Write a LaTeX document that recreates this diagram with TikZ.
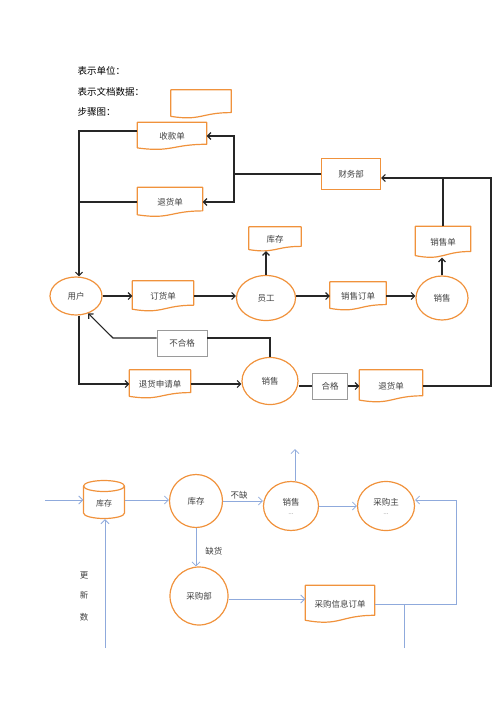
\documentclass[tikz,border=0pt]{standalone}
\usepackage{fontspec}
\setmainfont{Noto Sans CJK SC}
\usetikzlibrary{arrows.meta,shapes.geometric,calc}
\definecolor{orng}{HTML}{F0923C}
\definecolor{lblue}{HTML}{8FAADC}
\definecolor{gbox}{HTML}{9A9A9A}
\definecolor{txt}{HTML}{404040}
\newcommand\docoutline[1]{\draw[orline] let \p1=(#1.north west), \p2=(#1.south east) in (\x1,\y1) -- (\x2,\y1) -- (\x2,{\y2+0.198*(\y1-\y2)}) .. controls ({0.5*(\x1+\x2)},{\y2+0.198*(\y1-\y2)}) and ({0.5*(\x1+\x2)},{\y2-0.107*(\y1-\y2)}) .. (\x1,{\y2+0.066*(\y1-\y2)}) -- cycle;}
\begin{document}
\begin{tikzpicture}[x=1pt,y=-1pt,
  font=\fontsize{8.5}{10}\selectfont,
  orline/.style={draw=orng, line width=1.2pt, line join=round},
  docn/.style={rectangle, inner sep=0, text=txt},
  ell/.style={ellipse, draw=orng, line width=1.2pt, inner sep=0, text=txt},
  circ/.style={circle, draw=orng, line width=1.2pt, inner sep=0, text=txt},
  obox/.style={rectangle, draw=orng, line width=1.2pt, inner sep=0, text=txt},
  gboxs/.style={rectangle, draw=gbox, line width=0.8pt, inner sep=0, text=txt},
  blk/.style={draw=black!85, line width=1.1pt},
  barb/.style={-{Straight Barb[length=3.5pt,width=7pt]}},
  bl/.style={draw=lblue, line width=0.8pt},
  bbarb/.style={-{Straight Barb[length=4pt,width=8pt]}},
  lbl/.style={text=txt, inner sep=1pt}
]
\useasboundingbox (0,0) rectangle (500,707);

% legend
\node[anchor=west, font=\fontsize{9.5}{11}\selectfont] (l1) at (74,71) {表示单位：};
\node[anchor=west, font=\fontsize{9.5}{11}\selectfont] (l2) at (74,92) {表示文档数据：};
\node[anchor=west, font=\fontsize{9.5}{11}\selectfont] (l3) at (74,112) {步骤图：};
\node[docn, minimum width=60, minimum height=28] (leg) at (201,104) {};
\docoutline{leg}

% top section nodes
\node[docn, minimum width=69, minimum height=27] (skd) at (172,136) {收款单};
\docoutline{skd}
\node[docn, minimum width=65, minimum height=29] (thd) at (170,202) {退货单};
\docoutline{thd}
\node[obox, minimum width=59, minimum height=31] (cwb) at (351,174) {财务部};
\node[docn, minimum width=52, minimum height=24] (kc) at (275,239) {库存};
\docoutline{kc}
\node[docn, minimum width=55, minimum height=31] (xsd) at (443,242) {销售单};
\docoutline{xsd}
\node[ell, minimum width=52, minimum height=38] (yh) at (76,296) {用户};
\node[docn, minimum width=61, minimum height=30] (dhd) at (163,296) {订货单};
\docoutline{dhd}
\node[ell, minimum width=59, minimum height=45] (yg) at (266,298) {员工};
\node[docn, minimum width=56, minimum height=28] (xsdd) at (358,296) {销售订单};
\docoutline{xsdd}
\node[ell, minimum width=52, minimum height=44] (xs) at (442,298) {销售};
\node[gboxs, minimum width=50, minimum height=26] (bhg) at (182,343) {不合格};
\node[docn, minimum width=61, minimum height=28] (thsq) at (160,384) {退货申请单};
\docoutline{thsq}
\node[ell, minimum width=56, minimum height=47] (xs2) at (270,381) {销售};
\node[gboxs, minimum width=35, minimum height=26] (hg) at (330,386) {合格};
\node[docn, minimum width=63, minimum height=32] (thd2) at (391,386) {退货单};
\docoutline{thd2}

% top section connectors
\coordinate (jr) at (234,174);
\coordinate (rc) at (491,178);
\coordinate (lx) at ([xshift=3pt]yh.north);
\draw[blk] (cwb.west) -- (jr);
\draw[blk,barb] (jr) |- (skd.east);
\draw[blk,barb] (jr) |- (thd.east);
\draw[blk,barb] ([yshift=5pt]skd.west) -| (lx);
\draw[blk] (thd.west) -- (thd.west -| lx);
\draw[blk,barb] (thd2.east) -| (rc) -- ([yshift=-4pt]cwb.east);
\draw[blk] (xsd.north) -- (xsd.north |- rc);
\draw[blk,barb] (yh.east) -- (yh.east -| dhd.west);
\draw[blk,barb] (dhd.east) -- (dhd.east -| yg.west);
\draw[blk,barb] (yg.north) -- (yg.north |- kc.south);
\draw[blk,barb] (yg.east |- xsdd.west) -- (xsdd.west);
\draw[blk,barb] (xsdd.east) -- (xsdd.east -| xs.west);
\draw[blk,barb] (xs.north) -- (xs.north |- xsd.south);
\draw[blk,barb] ([xshift=3pt]yh.south) |- (thsq.west);
\draw[blk,barb] (thsq.east) -- (thsq.east -| xs2.west);
\draw[blk] (xs2.north) |- ([yshift=5pt]bhg.east);
\coordinate (bend) at (113,338);
\draw[blk,barb] ([yshift=5pt]bhg.west) -- (bend) -- (yh.-55);
\draw[blk] (hg.west -| xs2.east) -- (hg.west);
\draw[blk,barb] (hg.east) -- (thd2.west);

% bottom section nodes
\node[rectangle, inner sep=0, minimum width=41, minimum height=38, text=txt] (cyl) at (104,500) {};
\draw[orline] (83.5,486) arc[start angle=180, end angle=-180, x radius=20.5, y radius=5.5];
\draw[orline] (83.5,486) -- (83.5,513) arc[start angle=180, end angle=0, x radius=20.5, y radius=5.5] -- (124.5,486);
\node[text=txt, font=\fontsize{8}{9}\selectfont] (cyltxt) at (104,503) {库存};
\node[circ, minimum size=53] (kc2) at (196,501) {库存};
\node[ell, minimum width=55, minimum height=49, align=center] (xs3) at (291,506) {销售\\[-1pt]{\color{gray}\fontsize{6.5}{6.5}\selectfont ...}};
\node[ell, minimum width=57, minimum height=49, align=center] (cgz) at (386,506) {采购主\\[-1pt]{\color{gray}\fontsize{6.5}{6.5}\selectfont ...}};
\node[circ, minimum size=58] (cgb) at (199,596) {采购部};
\node[docn, minimum width=69, minimum height=37] (cgxx) at (340,604) {采购信息订单};
\docoutline{cgxx}
\node[text=txt, align=center, font=\fontsize{8.5}{21}\selectfont] (gx) at (84,596) {更\\新\\数};

% bottom section connectors
\coordinate (in1) at (45,500);
\coordinate (bl1) at (105,648);
\coordinate (up1) at (295,449);
\coordinate (rr) at (456,604);
\coordinate (bl2) at (404,648);
\draw[bl,bbarb] (in1) -- (cyl.west);
\draw[bl,bbarb] (bl1) -- (cyl.south -| bl1);
\draw[bl,bbarb] (cyl.east) -- (cyl.east -| kc2.west);
\draw[bl,bbarb] (kc2.east) -- node[lbl, above, pos=0.4] (bq) {不缺} (kc2.east -| xs3.west);
\draw[bl,bbarb] (xs3.north -| up1) -- (up1);
\draw[bl,bbarb] (xs3.east) -- (cgz.west);
\draw[bl,bbarb] (kc2.south) -- node[lbl, right, pos=0.6, xshift=8pt] (qh) {缺货} (cgb.north -| kc2.south);
\draw[bl,bbarb] ([yshift=-3pt]cgb.east) -- ([yshift=-3pt]cgb.east -| cgxx.west);
\draw[bl,bbarb] (cgxx.east) -- (rr) |- ([yshift=6pt]cgz.east);
\draw[bl] (bl2) -- (bl2 |- rr);
\end{tikzpicture}
\end{document}
